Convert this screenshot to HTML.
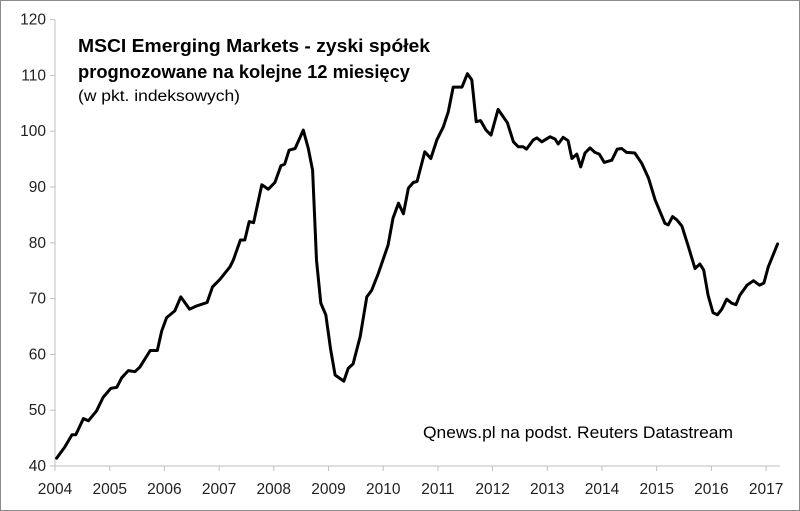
<!DOCTYPE html>
<html><head><meta charset="utf-8"><style>
html,body{margin:0;padding:0;background:#fff;}
svg{display:block;font-family:"Liberation Sans",sans-serif;}
</style></head><body>
<svg id="chart" width="800" height="511" viewBox="0 0 800 511">
<rect x="0.5" y="0.5" width="799" height="510" fill="#fff" stroke="#8c8c8c" stroke-width="1"/>
<g id="axes"></g>
<text x="78" y="52" font-size="18" font-weight="bold" fill="#000" textLength="352" lengthAdjust="spacingAndGlyphs">MSCI Emerging Markets - zyski spółek</text>
<text x="78" y="78" font-size="18" font-weight="bold" fill="#000" textLength="332" lengthAdjust="spacingAndGlyphs">prognozowane na kolejne 12 miesięcy</text>
<text x="78" y="101" font-size="15.5" fill="#000" textLength="162" lengthAdjust="spacingAndGlyphs">(w pkt. indeksowych)</text>
<text x="423" y="438" font-size="16.5" fill="#000" textLength="310" lengthAdjust="spacingAndGlyphs">Qnews.pl na podst. Reuters Datastream</text>
<path id="series" fill="none" stroke="#000" stroke-width="3" stroke-linejoin="round" stroke-linecap="round"/>
</svg>
<script>
const xTickLabels=[2004,2005,2006,2007,2008,2009,2010,2011,2012,2013,2014,2015,2016,2017];
const yTickLabels=[40,50,60,70,80,90,100,110,120];
const dates=[2004.03,2004.18,2004.31,2004.38,2004.52,2004.61,2004.76,2004.88,2005.02,2005.13,2005.22,2005.34,2005.46,2005.55,2005.74,2005.87,2005.95,2006.04,2006.19,2006.30,2006.46,2006.59,2006.78,2006.88,2007.02,2007.20,2007.26,2007.39,2007.47,2007.55,2007.63,2007.78,2007.90,2008.02,2008.13,2008.20,2008.28,2008.39,2008.54,2008.63,2008.71,2008.78,2008.86,2008.95,2009.04,2009.12,2009.28,2009.36,2009.45,2009.58,2009.70,2009.79,2009.91,2010.09,2010.18,2010.28,2010.37,2010.46,2010.55,2010.62,2010.76,2010.87,2010.98,2011.10,2011.19,2011.28,2011.44,2011.54,2011.62,2011.70,2011.78,2011.88,2011.97,2012.10,2012.27,2012.38,2012.47,2012.56,2012.62,2012.74,2012.81,2012.90,2013.05,2013.14,2013.20,2013.29,2013.38,2013.45,2013.54,2013.61,2013.69,2013.78,2013.87,2013.95,2014.04,2014.18,2014.28,2014.36,2014.45,2014.60,2014.73,2014.85,2014.97,2015.06,2015.15,2015.21,2015.29,2015.37,2015.46,2015.58,2015.70,2015.79,2015.86,2015.94,2016.03,2016.11,2016.19,2016.28,2016.37,2016.45,2016.52,2016.65,2016.77,2016.88,2016.96,2017.04,2017.21];
const values=[41.4,43.4,45.6,45.6,48.5,48.1,49.9,52.3,53.9,54.1,55.8,57.1,56.9,57.7,60.7,60.7,64.2,66.6,67.8,70.3,68.1,68.7,69.3,72.1,73.5,75.7,76.9,80.5,80.5,83.8,83.6,90.4,89.6,90.8,93.8,94.1,96.6,96.9,100.2,96.9,93.0,76.9,69.2,67.1,60.8,56.3,55.2,57.5,58.3,63.2,70.3,71.5,74.5,79.6,84.4,87.1,85.2,89.8,90.8,91.0,96.3,95.1,98.4,100.8,103.5,107.9,107.9,110.3,109.2,101.7,101.9,100.2,99.3,103.9,101.5,98.1,97.2,97.2,96.8,98.4,98.8,98.1,99.0,98.6,97.7,98.9,98.3,95.1,95.9,93.6,96.1,97.0,96.2,95.9,94.4,94.8,96.8,96.9,96.2,96.1,94.2,91.6,87.7,85.6,83.5,83.2,84.7,84.1,83.0,79.3,75.4,76.2,75.1,70.6,67.5,67.1,68.1,69.9,69.2,68.9,70.6,72.4,73.2,72.4,72.8,75.7,79.8];

const X0=55, XW=54.7, Y0=466, YH=5.58;
function xScale(d){return X0+(d-2004)*XW;}
function yScale(v){return Y0-(v-40)*YH;}
const NS="http://www.w3.org/2000/svg";
const axes=document.getElementById('axes');
function mk(tag,attrs){const e=document.createElementNS(NS,tag);for(const k in attrs)e.setAttribute(k,attrs[k]);return e;}

const yAxis=mk('line',{x1:X0,y1:yScale(120),x2:X0,y2:Y0,stroke:'#bfbfbf','stroke-width':1});


axes.appendChild(yAxis);
const xAxis=mk('line',{x1:X0,y1:Y0,x2:780,y2:Y0,stroke:'#bfbfbf','stroke-width':1});


axes.appendChild(xAxis);

yTickLabels.forEach(v=>{
  const y=yScale(v);
  const t=mk('line',{x1:X0-5,y1:y,x2:X0,y2:y,stroke:'#bfbfbf','stroke-width':1});
  
  
  axes.appendChild(t);
  const l=mk('text',{x:X0-9,y:y+5,'text-anchor':'end','font-size':15.5,fill:'#222'});
  l.textContent=v;
  
  
  axes.appendChild(l);
});
xTickLabels.forEach(d=>{
  const x=xScale(d);
  const t=mk('line',{x1:x,y1:Y0,x2:x,y2:Y0+5,stroke:'#bfbfbf','stroke-width':1});
  
  
  axes.appendChild(t);
  const l=mk('text',{x:x,y:Y0+28,'text-anchor':'middle','font-size':15.5,fill:'#222'});
  l.textContent=d;
  
  
  axes.appendChild(l);
});
let dstr='';
dates.forEach((d,i)=>{dstr+=(i?'L':'M')+xScale(d).toFixed(1)+','+yScale(values[i]).toFixed(1);});
document.getElementById('series').setAttribute('d',dstr);
</script>
</body></html>
